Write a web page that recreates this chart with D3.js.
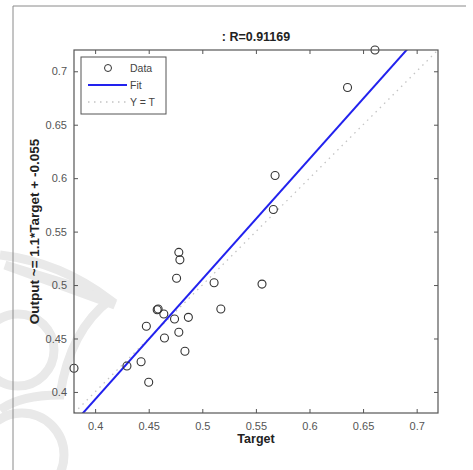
<!DOCTYPE html>
<html>
<head>
<meta charset="utf-8">
<script src="https://cdn.jsdelivr.net/npm/d3@7"></script>
<style>
  body { margin: 0; background: #fff; }
  svg { display: block; font-family: Arial, 'Liberation Sans', sans-serif; }
</style>
</head>
<body>
<div class="canvas"></div>
<script>
// regression data
const targets = [0.4781, 0.4791, 0.4760, 0.5110, 0.5173, 0.4579, 0.4588, 0.4641, 0.4741, 0.4870,
  0.4478, 0.4781, 0.4647, 0.4838, 0.4429, 0.4297, 0.4500, 0.3803, 0.6611, 0.6355,
  0.5679, 0.5663, 0.5557];
const outputs = [0.5306, 0.5236, 0.5063, 0.5021, 0.4776, 0.4769, 0.4776, 0.4729, 0.4682, 0.4698,
  0.4614, 0.4558, 0.4505, 0.4380, 0.4283, 0.4243, 0.4091, 0.4221, 0.7199, 0.6848,
  0.6025, 0.5707, 0.5009];
const xTicks = [0.4, 0.45, 0.5, 0.55, 0.6, 0.65, 0.7];
const yTicks = [0.4, 0.45, 0.5, 0.55, 0.6, 0.65, 0.7];
const legendLabels = ['Data', 'Fit', 'Y = T'];
const fit = { slope: 1.125, intercept: -0.057 };
const title = ': R=0.91169';
const xTitle = 'Target';
const yTitle = 'Output ~= 1.1*Target + -0.055';

const width = 473;
const height = 470;
const margin = { top: 50, right: 35, bottom: 57, left: 74 };
const innerW = width - margin.left - margin.right;
const innerH = height - margin.top - margin.bottom;

const points = targets.map((t, i) => ({ t, o: outputs[i] }));
const limits = d3.extent(targets.concat(outputs));

const x = d3.scaleLinear().domain(limits).range([0, innerW]);
const y = d3.scaleLinear().domain(limits).range([innerH, 0]);

const svg = d3.select('.canvas')
  .append('svg')
  .attr('width', width)
  .attr('height', height);

// faint watermark behind the figure
const mark = svg.append('g')
  .attr('fill', 'none')
  .attr('stroke', '#e9e9e9')
  .attr('stroke-width', 9);
mark.append('circle').attr('cx', 22).attr('cy', 455).attr('r', 42);
mark.append('circle').attr('cx', 18).attr('cy', 350).attr('r', 36);
mark.append('path').attr('d', 'M0,255 Q60,262 110,300 Q70,330 60,395 Q20,395 0,410');
mark.append('path')
  .attr('d', 'M5,265 L115,305 L70,285 Z')
  .attr('fill', '#e9e9e9');

// figure frame
svg.append('path')
  .attr('d', `M13,${height} V6 H466`)
  .attr('fill', 'none')
  .attr('stroke', '#8a8a8a')
  .attr('stroke-width', 1);

const graph = svg.append('g')
  .attr('transform', `translate(${margin.left}, ${margin.top})`);

graph.append('defs').append('clipPath')
  .attr('id', 'plot-clip')
  .append('rect')
  .attr('width', innerW)
  .attr('height', innerH);

const plot = graph.append('g').attr('clip-path', 'url(#plot-clip)');

// Y = T reference line
plot.append('line')
  .attr('x1', x(limits[0])).attr('y1', y(limits[0]))
  .attr('x2', x(limits[1])).attr('y2', y(limits[1]))
  .attr('stroke', '#c4c4c4')
  .attr('stroke-width', 1.3)
  .attr('stroke-dasharray', '1.5,4.5');

// fitted line
const fitY = t => fit.slope * t + fit.intercept;
plot.append('line')
  .attr('x1', x(limits[0])).attr('y1', y(fitY(limits[0])))
  .attr('x2', x(limits[1])).attr('y2', y(fitY(limits[1])))
  .attr('stroke', '#2222ee')
  .attr('stroke-width', 2);

// data circles
graph.selectAll('circle.pt')
  .data(points)
  .enter()
  .append('circle')
  .attr('class', 'pt')
  .attr('cx', d => x(d.t))
  .attr('cy', d => y(d.o))
  .attr('r', 4)
  .attr('fill', 'none')
  .attr('stroke', '#333')
  .attr('stroke-width', 1.1);

// axes with inward ticks on all four sides
const tickStyle = g => {
  g.select('.domain').remove();
  g.selectAll('line').attr('stroke', '#555');
  g.selectAll('text')
    .attr('fill', '#555')
    .attr('font-size', 11);
};

graph.append('g')
  .attr('transform', `translate(0, ${innerH})`)
  .call(d3.axisBottom(x).tickValues(xTicks).tickSize(-4).tickPadding(9).tickFormat(d3.format('')))
  .call(tickStyle);

graph.append('g')
  .call(d3.axisTop(x).tickValues(xTicks).tickSize(-4).tickFormat(''))
  .call(tickStyle);

graph.append('g')
  .call(d3.axisLeft(y).tickValues(yTicks).tickSize(-4).tickPadding(7).tickFormat(d3.format('')))
  .call(tickStyle);

graph.append('g')
  .attr('transform', `translate(${innerW}, 0)`)
  .call(d3.axisRight(y).tickValues(yTicks).tickSize(-4).tickFormat(''))
  .call(tickStyle);

graph.append('rect')
  .attr('width', innerW)
  .attr('height', innerH)
  .attr('fill', 'none')
  .attr('stroke', '#555')
  .attr('stroke-width', 1.2);

// titles
svg.append('text')
  .attr('x', margin.left + innerW / 2)
  .attr('y', 41)
  .attr('text-anchor', 'middle')
  .attr('font-size', 12.5)
  .attr('font-weight', 'bold')
  .attr('fill', '#222')
  .text(title);

svg.append('text')
  .attr('x', margin.left + innerW / 2)
  .attr('y', 443)
  .attr('text-anchor', 'middle')
  .attr('font-size', 12.5)
  .attr('font-weight', 'bold')
  .attr('fill', '#222')
  .text(xTitle);

svg.append('text')
  .attr('transform', `translate(39, ${margin.top + innerH / 2}) rotate(-90)`)
  .attr('text-anchor', 'middle')
  .attr('font-size', 13.5)
  .attr('font-weight', 'bold')
  .attr('fill', '#222')
  .text(yTitle);

// legend
const legend = graph.append('g')
  .attr('transform', 'translate(7, 7)');

legend.append('rect')
  .attr('width', 85)
  .attr('height', 57)
  .attr('fill', '#fff')
  .attr('stroke', '#555');

const rows = legend.selectAll('g.row')
  .data(legendLabels)
  .enter()
  .append('g')
  .attr('class', 'row')
  .attr('transform', (d, i) => `translate(0, ${11 + i * 17})`);

rows.append('text')
  .attr('x', 49)
  .attr('y', 4)
  .attr('font-size', 10.5)
  .attr('fill', '#444')
  .text(d => d);

rows.filter((d, i) => i === 0).append('circle')
  .attr('cx', 27).attr('r', 3.5)
  .attr('fill', 'none').attr('stroke', '#333');

rows.filter((d, i) => i === 1).append('line')
  .attr('x1', 7).attr('x2', 46)
  .attr('stroke', '#2222ee').attr('stroke-width', 2);

rows.filter((d, i) => i === 2).append('line')
  .attr('x1', 7).attr('x2', 46)
  .attr('stroke', '#c4c4c4').attr('stroke-width', 1.3)
  .attr('stroke-dasharray', '1.5,4.5');
</script>
</body>
</html>
